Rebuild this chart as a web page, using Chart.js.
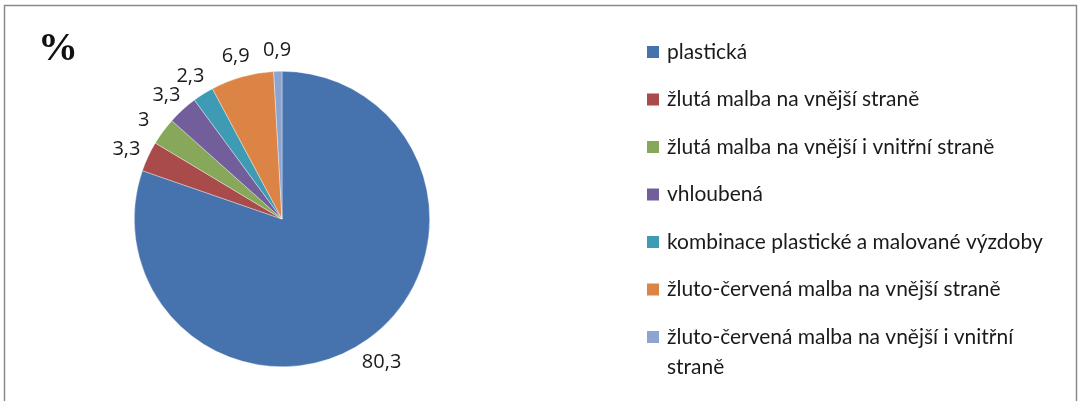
<!DOCTYPE html>
<html>
<head>
<meta charset="utf-8">
<script src="https://cdn.jsdelivr.net/npm/chart.js@4"></script>
<style>
    html, body { margin: 0; padding: 0; background: #fff; }
    #wrap { width: 1082px; height: 401px; }
</style>
</head>
<body>
<div id="wrap"><canvas id="pieChart" width="1082" height="401"></canvas></div>
<script>
// Data
const categories = [
    'plastická',
    'žlutá malba na vnější straně',
    'žlutá malba na vnější i vnitřní straně',
    'vhloubená',
    'kombinace plastické a malované výzdoby',
    'žluto-červená malba na vnější straně',
    'žluto-červená malba na vnější i vnitřní straně'
];
const shares = [80.3, 3.3, 3, 3.3, 2.3, 6.9, 0.9];
const valueLabels = ['80,3', '3,3', '3', '3,3', '2,3', '6,9', '0,9'];
const unitLabel = '%';

const colors = ['#4673AE', '#A84B4A', '#87A85B', '#725E9A', '#3F9BB4', '#DC8445', '#8EA4D0'];

// Frame, "%" title, value labels and legend drawn on the canvas
const decorations = {
    id: 'decorations',
    afterDraw(chart) {
        const ctx = chart.ctx;
        const meta = chart.getDatasetMeta(0);

        ctx.save();
        // outer frame
        ctx.strokeStyle = '#8a8a8a';
        ctx.lineWidth = 1.5;
        ctx.strokeRect(4.5, 5.5, 1072, 430);

        // unit
        ctx.fillStyle = '#111';
        ctx.font = 'bold 40px "Liberation Serif"';
        ctx.textBaseline = 'alphabetic';
        ctx.textAlign = 'left';
        ctx.fillText(unitLabel, 38, 60);

        // value labels outside the slices
        ctx.font = '20px "Open Sans"';
        ctx.textAlign = 'center';
        ctx.textBaseline = 'middle';
        ctx.fillStyle = '#1a1a1a';
        meta.data.forEach((arc, i) => {
            const p = arc.getProps(['x', 'y', 'startAngle', 'endAngle', 'outerRadius'], true);
            const mid = (p.startAngle + p.endAngle) / 2;
            const r = p.outerRadius + 24;
            ctx.fillText(valueLabels[i], p.x + Math.cos(mid) * r, p.y + Math.sin(mid) * r + 3);
        });

        // legend
        const sample = 'kombinace plastické a malované výzdoby';
        let size = 20;
        ctx.font = size + 'px Lato';
        size = size * 376 / ctx.measureText(sample).width;
        ctx.font = size + 'px Lato';
        ctx.textAlign = 'left';
        ctx.textBaseline = 'middle';
        const maxWidth = 392;
        let y = 52;
        categories.forEach((name, i) => {
            ctx.fillStyle = colors[i];
            ctx.fillRect(647, y - 6, 12, 12);
            ctx.fillStyle = '#1a1a1a';
            // simple word wrap
            const words = name.split(' ');
            let line = '';
            let ly = y;
            words.forEach(w => {
                const test = line ? line + ' ' + w : w;
                if (ctx.measureText(test).width > maxWidth && line) {
                    ctx.fillText(line, 667, ly);
                    line = w;
                    ly += 30;
                } else {
                    line = test;
                }
            });
            ctx.fillText(line, 667, ly);
            y += 47.5;
        });
        ctx.restore();
    }
};

new Chart(document.getElementById('pieChart').getContext('2d'), {
    type: 'pie',
    data: {
        labels: categories,
        datasets: [{
            data: shares,
            backgroundColor: colors,
            borderColor: 'rgba(255,255,255,0.6)',
            borderWidth: 0.6
        }]
    },
    options: {
        responsive: false,
        animation: false,
        layout: {
            padding: { left: 134, right: 652, top: 71, bottom: 34 }
        },
        plugins: {
            legend: { display: false },
            tooltip: { enabled: false }
        }
    },
    plugins: [decorations]
});
</script>
</body>
</html>
